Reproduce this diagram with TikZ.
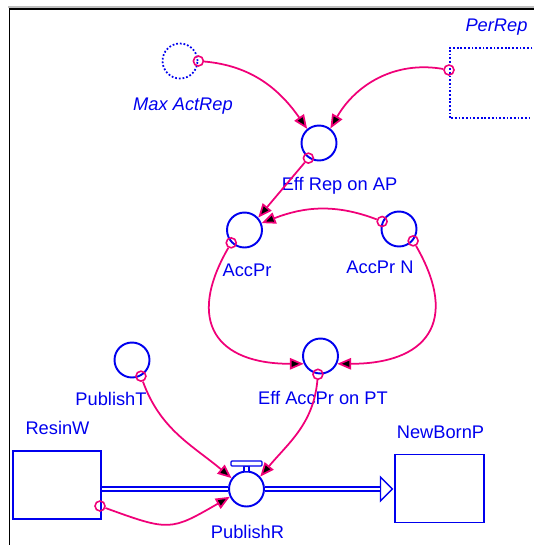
\documentclass[tikz,border=0pt]{standalone}
\usepackage{fontspec}
\setmainfont{Liberation Sans}
\usetikzlibrary{arrows.meta, shapes.geometric}
\definecolor{sdblue}{RGB}{0,0,238}
\definecolor{sdpink}{RGB}{240,0,120}
\tikzset{aux/.style={circle, draw=sdblue, line width=1.1pt, fill=white, minimum size=0.7cm, inner sep=0pt},
  ghost/.style={aux, line width=1pt, dash pattern=on 1pt off 1.1pt},
  ghostline/.style={draw=sdblue, line width=1pt, dash pattern=on 1pt off 1.1pt},
  stock/.style={rectangle, draw=sdblue, line width=1.1pt, fill=white, minimum width=1.77cm, minimum height=1.36cm, inner sep=0pt},
  tag/.style={text=sdblue, font=\fontsize{10.4}{12}\selectfont, inner sep=0pt, text height=0.26cm, text depth=0pt},
  origin/.style={circle, draw=sdpink, line width=0.9pt, minimum size=0.2cm, inner sep=0pt},
  link/.style={draw=sdpink, line width=1pt, -{Triangle[length=0.28cm, width=0.23cm]}},
  pipe/.style={draw=sdblue, double=white, line width=0.8pt, double distance=1.6pt},
  flowtip/.style={isosceles triangle, isosceles triangle stretches, draw=sdblue, fill=white, line width=0.8pt, minimum width=0.48cm, minimum height=0.24cm, inner sep=0pt},
  valve/.style={draw=sdblue, line width=0.7pt, fill=white}}

\begin{document}
\begin{tikzpicture}[x=0.02cm, y=-0.02cm]
    \useasboundingbox (0,0) rectangle (534,545);
    \draw[gray!50, line width=0.6pt] (8,7) -- (534,7);
    \draw[line width=1.1pt] (9.5,545) -- (9.5,9) -- (534,9);

    \node[ghost] (max) at (180,61) {};
    % the PerRep box runs on past the right edge
    \node[minimum width=1.64cm, minimum height=1.4cm, inner sep=0pt] (perrep) at (491,83) {};
    \draw[ghostline] (perrep.north east) -- (perrep.north west) -- (perrep.south west) -- (perrep.south east);
    \node[aux] (effrep) at (319,143) {};
    \node[aux] (accpr) at (244.5,230) {};
    \node[aux] (accprn) at (399,229) {};
    \node[aux] (effacc) at (320.5,356) {};
    \node[aux] (pubt) at (132,360) {};
    \node[stock] (resin) at (57,485) {};
    \node[stock] (newborn) at (439.5,488.5) {};
    \node[aux] (pubr) at (246.5,489) {};
    \draw[valve] (244,466) rectangle (249,471.5);
    \draw[valve, rounded corners=0.6pt] (231,461) rectangle (262,466);

    \node[tag, font=\fontsize{10.4}{12}\selectfont\itshape] (max-t) at (183,104) {Max ActRep};
    \node[tag, font=\fontsize{10.4}{12}\selectfont\itshape] (perrep-t) at (496.5,24.5) {PerRep};
    \node[tag] (effrep-t) at (339.5,184) {Eff Rep on AP};
    \node[tag] (accpr-t) at (247,270) {AccPr};
    \node[tag] (accprn-t) at (380,267) {AccPr N};
    \node[tag] (effacc-t) at (323,398) {Eff AccPr on PT};
    \node[tag] (pubt-t) at (111,399) {PublishT};
    \node[tag] (resin-t) at (57.5,428) {ResinW};
    \node[tag] (newborn-t) at (440.5,431.5) {NewBornP};
    \node[tag] (pubr-t) at (247.5,531.5) {PublishR};

    % flow pipe
    \node[flowtip, anchor=apex] (tip) at (newborn.west |- pubr) {};
    \draw[pipe] (resin.east |- pubr) -- (pubr.west);
    \draw[pipe] (pubr.east) -- (tip.lower side);

    % connector origins
    \node[origin] (o1) at (max.east) {};
    \node[origin] (o2) at (449,70) {};
    \node[origin] (o3) at (effrep.235) {};
    \node[origin] (o4) at (accprn.156) {};
    \node[origin] (o5) at (accpr.224) {};
    \node[origin] (o6) at (accprn.-40) {};
    \node[origin] (o7) at (effacc.262) {};
    \node[origin] (o8) at (pubt.-61) {};
    \node[origin] (o9) at (100,506) {};

    \path[link]
    	(o1) edge [out=-5, in=125] (effrep.130)
    	(o2) edge [out=170, in=60] (effrep.52)
    	(o3) edge (accpr.42)
    	(o4) edge [out=159, in=21] (accpr.22)
    	(o5) edge [out=240, in=180, looseness=1.6] (effacc.205)
    	(o6) edge [out=-60, in=0, looseness=1.6] (effacc.335)
    	(o7) edge [out=265, in=50] (pubr.42)
    	(o8) edge [out=-70, in=140] (pubr.144)
    	(o9) edge [out=-20, in=210, looseness=1.4] (pubr.205)
    	;
\end{tikzpicture}
\end{document}
